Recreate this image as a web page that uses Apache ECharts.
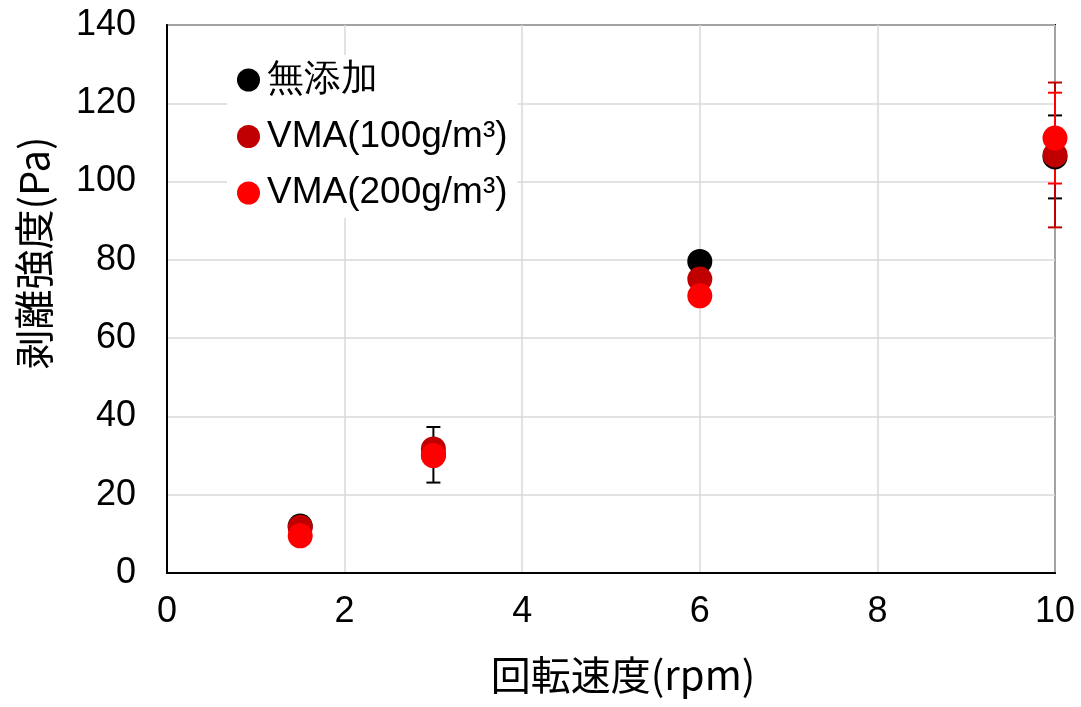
<!DOCTYPE html>
<html>
<head>
<meta charset="utf-8">
<script src="https://cdn.jsdelivr.net/npm/echarts@6/dist/echarts.min.js"></script>
<style>
html,body{margin:0;padding:0;background:#fff;}
#chart{width:1081px;height:707px;}
</style>
</head>
<body>
<div id="chart"></div>
<script>
// ---- data ----
const seriesNames = ['無添加', 'VMA(100g/m³)', 'VMA(200g/m³)'];
const seriesColors = ['#000000', '#C00000', '#FF0000'];
const speeds = [1.5, 3, 6, 10];
const meanNone = [12.0, 30.2, 79.6, 106.3];
const meanVMA100 = [11.7, 31.7, 75.1, 106.8];
const meanVMA200 = [9.5, 30.0, 70.8, 111.1];
const errNone = [0.5, 7.1, 0.5, 10.6];
const errVMA100 = [0.5, 1.0, 0.5, 18.5];
const errVMA200 = [0.5, 1.0, 0.5, 11.6];
const xTicks = [0, 2, 4, 6, 8, 10];
const yTicks = [0, 20, 40, 60, 80, 100, 120, 140];

const means = [meanNone, meanVMA100, meanVMA200];
const errs = [errNone, errVMA100, errVMA200];

const tickFont = 'Liberation Sans, Arial, sans-serif';
const jpFont = '"Noto Sans CJK JP", sans-serif';

function errSeries(i) {
  return {
    type: 'custom',
    name: seriesNames[i] + '_err',
    z: 1 + i,
    silent: true,
    data: speeds.map((s, k) => [s, means[i][k] - errs[i][k], means[i][k] + errs[i][k]]),
    renderItem: function (params, api) {
      const lo = api.coord([api.value(0), api.value(1)]);
      const hi = api.coord([api.value(0), api.value(2)]);
      const w = 7;
      const st = { stroke: seriesColors[i], lineWidth: 2 };
      return {
        type: 'group',
        children: [
          { type: 'line', shape: { x1: lo[0], y1: lo[1], x2: hi[0], y2: hi[1] }, style: st },
          { type: 'line', shape: { x1: lo[0] - w, y1: lo[1], x2: lo[0] + w, y2: lo[1] }, style: st },
          { type: 'line', shape: { x1: hi[0] - w, y1: hi[1], x2: hi[0] + w, y2: hi[1] }, style: st }
        ]
      };
    }
  };
}

function scatterSeries(i) {
  return {
    type: 'scatter',
    name: seriesNames[i],
    z: 10 + i,
    symbol: 'circle',
    symbolSize: 25,
    itemStyle: { color: seriesColors[i], opacity: 1 },
    data: speeds.map((s, k) => [s, means[i][k]])
  };
}

const chart = echarts.init(document.getElementById('chart'), null, { renderer: 'canvas' });
chart.setOption({
  animation: false,
  backgroundColor: '#ffffff',
  grid: {
    left: 167, top: 25, right: 1081 - 1055, bottom: 707 - 573,
    show: true, borderColor: '#000', borderWidth: 2, backgroundColor: 'transparent'
  },
  legend: {
    orient: 'vertical',
    left: 227, top: 55,
    width: 291,
    padding: [5, 10, 5, 10],
    backgroundColor: '#ffffff',
    itemWidth: 23, itemHeight: 23,
    itemGap: 16.5,
    icon: 'circle',
    data: seriesNames,
    textStyle: { fontFamily: tickFont, fontSize: 37, color: '#000', lineHeight: 40, padding: [0, 0, 0, 2] },
    z: 20
  },
  xAxis: {
    type: 'value',
    min: 0, max: 10, interval: 2,
    name: '回転速度(rpm)',
    nameLocation: 'middle',
    nameGap: 82,
    nameTextStyle: { fontFamily: jpFont, fontSize: 40, color: '#000', padding: [0, 0, 0, 24] },
    axisLine: { show: true, lineStyle: { color: '#000', width: 2 } },
    axisTick: { show: false },
    axisLabel: { fontFamily: tickFont, fontSize: 36, color: '#000', margin: 21,
      formatter: v => xTicks.includes(v) ? String(v) : '' },
    splitLine: { show: true, lineStyle: { color: '#d9d9d9', width: 1.5 } }
  },
  yAxis: {
    type: 'value',
    min: 0, max: 140, interval: 20,
    name: '剥離強度(Pa)',
    nameLocation: 'middle',
    nameGap: 113,
    nameTextStyle: { fontFamily: jpFont, fontSize: 40, color: '#000', padding: [0, 0, 0, 92] },
    axisLine: { show: true, lineStyle: { color: '#000', width: 2 } },
    axisTick: { show: false },
    axisLabel: { fontFamily: tickFont, fontSize: 36, color: '#000', margin: 31,
      formatter: v => yTicks.includes(v) ? String(v) : '' },
    splitLine: { show: true, lineStyle: { color: '#d9d9d9', width: 1.5 } }
  },
  series: [errSeries(0), errSeries(1), errSeries(2), scatterSeries(0), scatterSeries(1), scatterSeries(2)]
});
</script>
</body>
</html>
